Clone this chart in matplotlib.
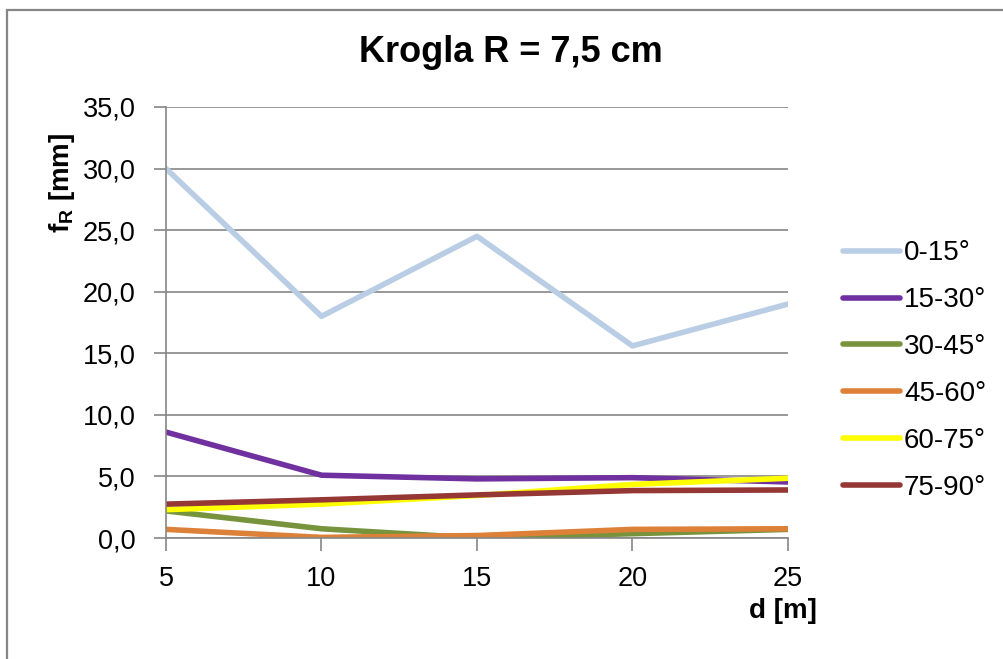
import matplotlib
matplotlib.use("Agg")
import matplotlib.pyplot as plt
from matplotlib.patches import Rectangle

plt.rcParams["font.family"] = ["Liberation Sans", "DejaVu Sans"]
plt.rcParams["mathtext.fontset"] = "custom"
plt.rcParams["mathtext.rm"] = "Liberation Sans"
plt.rcParams["mathtext.bf"] = "Liberation Sans:bold"

# distances d [m]
distances = [5, 10, 15, 20, 25]

# f_R [mm] per angle range
labels = ["0-15°", "15-30°", "30-45°", "45-60°", "60-75°", "75-90°"]
f_0_15 = [30.0, 18.0, 24.5, 15.6, 19.0]
f_15_30 = [8.6, 5.1, 4.8, 4.9, 4.55]
f_30_45 = [2.2, 0.75, 0.0, 0.35, 0.7]
f_45_60 = [0.7, 0.05, 0.2, 0.7, 0.75]
f_60_75 = [2.3, 2.75, 3.45, 4.35, 4.85]
f_75_90 = [2.75, 3.1, 3.5, 3.85, 3.9]

series = [f_0_15, f_15_30, f_30_45, f_45_60, f_60_75, f_75_90]
colors = ["#B9CDE5", "#7030A0", "#77933C", "#DE8138", "#FFFF00", "#953735"]

W, H = 1004, 659
fig = plt.figure(figsize=(W / 100, H / 100), dpi=100)
ax = fig.add_axes([166 / W, 1 - 538 / H, 622 / W, 431 / H])

# outer chart border (cut off on the right and bottom)
fig.patches.append(Rectangle((7 / W, -0.2), 1.2, 1.2 - 10 / H,
                             transform=fig.transFigure, fill=False,
                             edgecolor="#868686", linewidth=1.6))

for vals, lab, col in zip(series, labels, colors):
    ax.plot(distances, vals, color=col, linewidth=4, label=lab,
            solid_capstyle="round", solid_joinstyle="round")

ax.set_xlim(5, 25)
ax.set_ylim(0, 35)
ax.set_xticks(distances)
ax.set_yticks(range(0, 36, 5))
ax.set_yticklabels([f"{v:.1f}".replace(".", ",") for v in range(0, 36, 5)])

ax.grid(axis="y", color="#868686", linewidth=1.2)
ax.set_axisbelow(True)
for side in ["top", "right"]:
    ax.spines[side].set_visible(False)
for side in ["left", "bottom"]:
    ax.spines[side].set_color("#868686")
    ax.spines[side].set_linewidth(1.2)
ax.tick_params(axis="both", colors="#868686", labelcolor="black",
               labelsize=19.5, width=1.2, length=9)
ax.tick_params(axis="y", pad=13)
ax.tick_params(axis="x", pad=11)

ax.set_ylabel(r"f$_{\mathbf{R}}$ [mm]", fontsize=20, fontweight="bold")
ax.yaxis.set_label_coords((77 - 166) / 622, (538 - 183) / 431)

fig.text(817 / W, 1 - 611 / H, "d [m]", fontsize=20, fontweight="bold",
         ha="right", va="center")
fig.text(511 / W, 1 - 53 / H, "Krogla R = 7,5 cm", fontsize=26,
         fontweight="bold", ha="center", va="center")

ax.legend(loc="center left", bbox_to_anchor=(843 / W, 1 - 370.5 / H),
          bbox_transform=fig.transFigure, frameon=False, fontsize=20,
          handlelength=2.05, handletextpad=0.15, labelspacing=0.75,
          borderpad=0, borderaxespad=0)

fig.savefig("out.png", dpi=100)
